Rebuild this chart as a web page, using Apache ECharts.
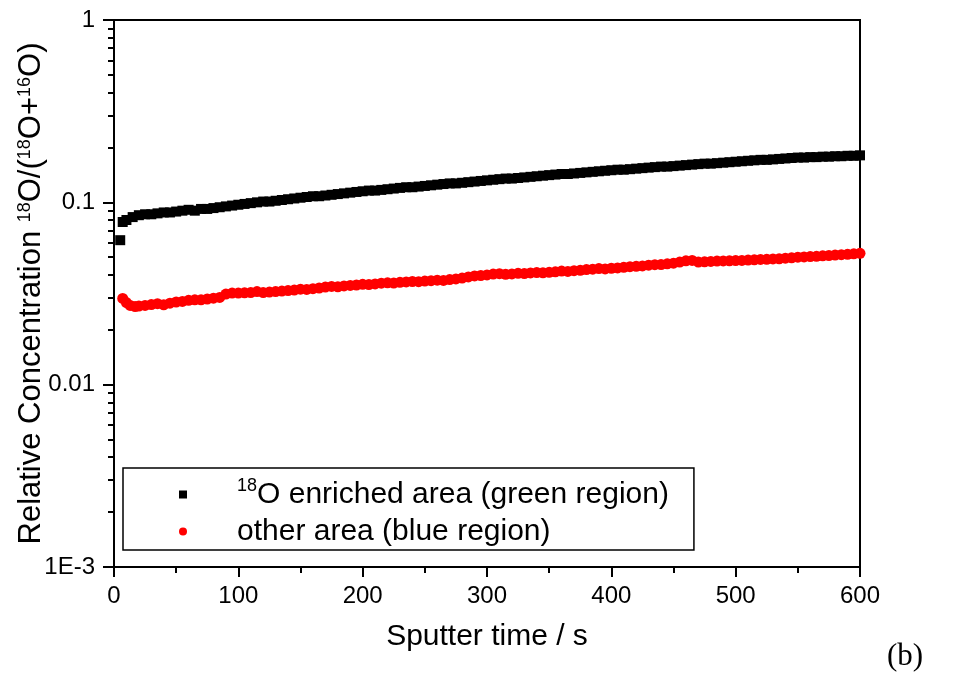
<!DOCTYPE html>
<html>
<head>
<meta charset="utf-8">
<script src="https://cdn.jsdelivr.net/npm/echarts@6/dist/echarts.min.js"></script>
<style>
  html, body { margin: 0; padding: 0; background: #fff; }
  #chart { width: 963px; height: 673px; }
</style>
</head>
<body>
<div id="chart"></div>
<script>
// sputter time (s) and relative concentration
const blackTime = [5, 7, 10, 15, 20, 25, 30, 35, 40, 45, 50, 55, 60, 65, 70, 75, 80, 85, 90, 95,
  100, 105, 110, 115, 120, 125, 130, 135, 140, 145, 150, 155, 160, 165, 170, 175, 180, 185, 190, 195,
  200, 205, 210, 215, 220, 225, 230, 235, 240, 245, 250, 255, 260, 265, 270, 275, 280, 285, 290, 295,
  300, 305, 310, 315, 320, 325, 330, 335, 340, 345, 350, 355, 360, 365, 370, 375, 380, 385, 390, 395,
  400, 405, 410, 415, 420, 425, 430, 435, 440, 445, 450, 455, 460, 465, 470, 475, 480, 485, 490, 495,
  500, 505, 510, 515, 520, 525, 530, 535, 540, 545, 550, 555, 560, 565, 570, 575, 580, 585, 590, 595, 600];
const blackConc = [0.062, 0.078, 0.080, 0.083, 0.085, 0.086, 0.086, 0.087, 0.088, 0.088, 0.089, 0.090, 0.091, 0.090, 0.092, 0.092, 0.093, 0.094, 0.095, 0.096,
  0.097, 0.098, 0.099, 0.100, 0.101, 0.101, 0.102, 0.103, 0.104, 0.105, 0.106, 0.107, 0.108, 0.108, 0.109, 0.110, 0.111, 0.112, 0.113, 0.114,
  0.115, 0.116, 0.116, 0.117, 0.118, 0.119, 0.120, 0.121, 0.121, 0.122, 0.123, 0.124, 0.125, 0.126, 0.127, 0.127, 0.128, 0.129, 0.130, 0.131,
  0.132, 0.133, 0.134, 0.135, 0.135, 0.136, 0.137, 0.138, 0.139, 0.140, 0.141, 0.142, 0.143, 0.143, 0.144, 0.145, 0.146, 0.147, 0.148, 0.149,
  0.150, 0.151, 0.151, 0.152, 0.153, 0.154, 0.155, 0.156, 0.157, 0.157, 0.158, 0.159, 0.160, 0.161, 0.162, 0.163, 0.163, 0.164, 0.165, 0.166,
  0.167, 0.168, 0.169, 0.170, 0.171, 0.171, 0.172, 0.173, 0.174, 0.175, 0.176, 0.176, 0.177, 0.177, 0.178, 0.178, 0.179, 0.179, 0.180, 0.180, 0.181];

const redTime = [7, 10, 13, 17, 20, 25, 30, 35, 40, 45, 50, 55, 60, 65, 70, 75, 80, 85, 90, 95,
  100, 105, 110, 115, 120, 125, 130, 135, 140, 145, 150, 155, 160, 165, 170, 175, 180, 185, 190, 195,
  200, 205, 210, 215, 220, 225, 230, 235, 240, 245, 250, 255, 260, 265, 270, 275, 280, 285, 290, 295,
  300, 305, 310, 315, 320, 325, 330, 335, 340, 345, 350, 355, 360, 365, 370, 375, 380, 385, 390, 395,
  400, 405, 410, 415, 420, 425, 430, 435, 440, 445, 450, 455, 460, 465, 470, 475, 480, 485, 490, 495,
  500, 505, 510, 515, 520, 525, 530, 535, 540, 545, 550, 555, 560, 565, 570, 575, 580, 585, 590, 595, 600];
const redConc = [0.0297, 0.0282, 0.0272, 0.0268, 0.0270, 0.0272, 0.0275, 0.0278, 0.0274, 0.0280, 0.0284, 0.0286, 0.0290, 0.0292, 0.0292, 0.0295, 0.0298, 0.0301, 0.0314, 0.0318,
  0.0318, 0.0319, 0.0320, 0.0324, 0.0320, 0.0322, 0.0324, 0.0326, 0.0328, 0.0330, 0.0334, 0.0333, 0.0336, 0.0339, 0.0343, 0.0346, 0.0344, 0.0348, 0.0350, 0.0352,
  0.0355, 0.0354, 0.0357, 0.0360, 0.0362, 0.0361, 0.0364, 0.0366, 0.0368, 0.0367, 0.0370, 0.0372, 0.0374, 0.0373, 0.0377, 0.0380, 0.0384, 0.0390, 0.0395, 0.0397,
  0.0400, 0.0404, 0.0406, 0.0403, 0.0405, 0.0408, 0.0407, 0.0410, 0.0412, 0.0411, 0.0413, 0.0416, 0.0420, 0.0418, 0.0422, 0.0424, 0.0428, 0.0430, 0.0433, 0.0431,
  0.0435, 0.0437, 0.0440, 0.0444, 0.0446, 0.0448, 0.0452, 0.0455, 0.0456, 0.0460, 0.0464, 0.0470, 0.0478, 0.0480, 0.0470, 0.0472, 0.0474, 0.0476, 0.0477, 0.0478,
  0.0479, 0.0480, 0.0482, 0.0484, 0.0486, 0.0487, 0.0489, 0.0490, 0.0494, 0.0496, 0.0500, 0.0502, 0.0504, 0.0506, 0.0509, 0.0511, 0.0514, 0.0516, 0.0519, 0.0522, 0.0525];

const yTickLabels = ['1E-3', '0.01', '0.1', '1'];
const yMinorTicks = [0.002, 0.003, 0.004, 0.005, 0.006, 0.007, 0.008, 0.009,
  0.02, 0.03, 0.04, 0.05, 0.06, 0.07, 0.08, 0.09,
  0.2, 0.3, 0.4, 0.5, 0.6, 0.7, 0.8, 0.9];
const seriesNames = ['{sup|18}O enriched area (green region)', 'other area (blue region)'];

const font = 'Liberation Sans, Arial, sans-serif';
const supStyle = { fontFamily: font, fontSize: 18, verticalAlign: 'top', lineHeight: 24, color: '#000' };
const chart = echarts.init(document.getElementById('chart'));

const option = {
  backgroundColor: '#fff',
  animation: false,
  grid: {
    left: 114, right: 103, top: 20, bottom: 106,
    outerBoundsMode: 'none',
    show: true, borderColor: '#000', borderWidth: 2, backgroundColor: 'transparent'
  },
  legend: {
    orient: 'vertical',
    left: 123,
    top: 468,
    padding: [9, 25, 1, 56],
    itemGap: 2,
    itemWidth: 8,
    itemHeight: 8,
    borderColor: '#000',
    borderWidth: 1.5,
    data: [
      { name: seriesNames[0], icon: 'rect' },
      { name: seriesNames[1], icon: 'circle' }
    ],
    textStyle: {
      fontFamily: font, fontSize: 30, color: '#000', lineHeight: 35,
      padding: [0, 0, 0, 45],
      rich: { sup: supStyle }
    }
  },
  xAxis: {
    type: 'value',
    min: 0, max: 600, interval: 100,
    name: 'Sputter time / s',
    nameLocation: 'middle',
    nameGap: 55,
    nameMoveOverlap: false,
    nameTextStyle: { fontFamily: font, fontSize: 30, color: '#000' },
    axisLine: { show: true, lineStyle: { color: '#000', width: 2 } },
    axisTick: { show: true, inside: false, length: 10, lineStyle: { color: '#000', width: 2 } },
    minorTick: { show: true, splitNumber: 2, length: 6, lineStyle: { color: '#000', width: 2 } },
    axisLabel: { fontFamily: font, fontSize: 24, color: '#000', margin: 17 },
    splitLine: { show: false }
  },
  yAxis: [
    {
      type: 'log',
      logBase: 10,
      min: 0.001, max: 1,
      name: 'Relative Concentration {sup|18}O/({sup|18}O+{sup|16}O)',
      nameLocation: 'middle',
      nameRotate: 90,
      nameGap: 67,
      nameMoveOverlap: false,
      nameTextStyle: {
        fontFamily: font, fontSize: 31, color: '#000',
        rich: { sup: supStyle }
      },
      axisLine: { show: true, lineStyle: { color: '#000', width: 2 } },
      axisTick: { show: true, inside: false, length: 11, lineStyle: { color: '#000', width: 2 } },
      axisLabel: {
        fontFamily: font, fontSize: 24, color: '#000', margin: 19,
        formatter: (v) => yTickLabels[Math.round(Math.log10(v)) + 3]
      },
      splitLine: { show: false }
    },
    {
      type: 'log',
      logBase: 10,
      min: 0.001, max: 1,
      position: 'left',
      axisLine: { show: false },
      axisTick: { show: true, inside: false, length: 6, customValues: yMinorTicks, lineStyle: { color: '#000', width: 2 } },
      axisLabel: { show: false },
      splitLine: { show: false }
    }
  ],
  series: [
    {
      name: seriesNames[0],
      type: 'scatter',
      symbol: 'rect',
      symbolSize: 10,
      itemStyle: { color: '#000', opacity: 1 },
      data: blackTime.map((t, i) => [t, blackConc[i]])
    },
    {
      name: seriesNames[1],
      type: 'scatter',
      symbol: 'circle',
      symbolSize: 11,
      itemStyle: { color: '#ff0000', opacity: 1 },
      data: redTime.map((t, i) => [t, redConc[i]])
    }
  ],
  graphic: [
    {
      type: 'text',
      left: 887,
      top: 641,
      style: { text: '(b)', font: '31px "Liberation Serif", "Times New Roman", serif', fill: '#000' }
    }
  ]
};

chart.setOption(option);
</script>
</body>
</html>
